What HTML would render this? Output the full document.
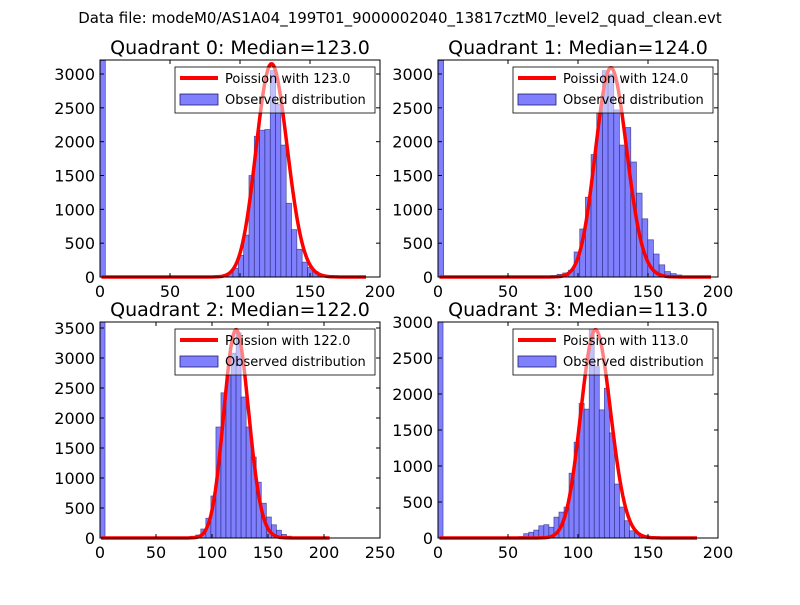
<!DOCTYPE html>
<html><head><meta charset="utf-8"><style>
body{margin:0;background:#fff}
svg text{font-family:"DejaVu Sans","Liberation Sans",sans-serif;fill:#000}
</style></head><body>
<svg id="fig" width="800" height="600" viewBox="0 0 800 600" xmlns="http://www.w3.org/2000/svg">
<rect width="800" height="600" fill="#fff"/>
<text x="400" y="23" font-size="15" text-anchor="middle">Data file: modeM0/AS1A04_199T01_9000002040_13817cztM0_level2_quad_clean.evt</text>
</svg>
<script>
// ---- data ----
const medians = [123.0, 124.0, 122.0, 113.0];
const binWidths = [3.8, 4.05, 4.5, 3.6];
const zeroBinCounts = [3200, 3200, 3600, 3000];
const startBins = [21, 20, 18, 16];
const q0Counts = [10,15,20,60,130,320,620,1500,2080,2170,2180,3050,2550,1950,1090,700,410,220,140,80,40,20];
const q1Counts = [20,40,60,100,370,710,1180,1810,2420,3050,3000,2470,1950,2210,1700,1240,860,550,340,180,80,50,30];
const q2Counts = [30,50,150,330,700,1850,2420,2720,3080,3420,2350,1850,1350,930,580,350,220,130,60,30];
const q3Counts = [20,60,80,110,170,185,150,290,360,430,900,1330,1870,1790,2890,2380,1780,2080,1460,750,430,240,100,70,40,20];
const curvePeaks = [3150, 3090, 3470, 2890];
const curveEnds = [190, 195, 205, 185];
const xMaxes = [200, 200, 250, 200];
const yMaxes = [3207, 3207, 3600, 3000];
const xTickLabels = [[0,50,100,150,200],[0,50,100,150,200],[0,50,100,150,200,250],[0,50,100,150,200]];
const yTickLabels = [[0,500,1000,1500,2000,2500,3000],[0,500,1000,1500,2000,2500,3000],[0,500,1000,1500,2000,2500,3000,3500],[0,500,1000,1500,2000,2500,3000]];
// ---- layout ----
const allCounts=[q0Counts,q1Counts,q2Counts,q3Counts];
const boxes=[[100,60,380,277],[438,60,718,277],[100,322,380,538],[438,322,718,538]];
const NS='http://www.w3.org/2000/svg';
const fig=document.getElementById('fig');
function mk(tag,attrs,parent){const e=document.createElementNS(NS,tag);for(const k in attrs)e.setAttribute(k,attrs[k]);(parent||fig).appendChild(e);return e;}
function lgam(n){let s=0;for(let i=2;i<=n;i++)s+=Math.log(i);return s;}
function pmf(k,l){return Math.exp(k*Math.log(l)-l-lgam(k));}
for(let q=0;q<4;q++){
  const [x0,y0,x1,y1]=boxes[q];
  const g=mk('g',{});
  
  
  const xs=v=>x0+(x1-x0)*v/xMaxes[q];
  const ys=v=>y1-(y1-y0)*Math.min(v,yMaxes[q])/yMaxes[q];
  const bw=binWidths[q];
  const drawBar=(i,c)=>{const r=mk('rect',{x:xs(i*bw),y:ys(c),width:xs(bw)-xs(0),height:y1-ys(c),fill:'#8080ff',stroke:'#1c1c6a','stroke-width':0.7,'stroke-opacity':0.7},g);
    
    };
  drawBar(0,zeroBinCounts[q]);
  allCounts[q].forEach((c,j)=>drawBar(startBins[q]+j,c));
  const lam=medians[q];const scale=curvePeaks[q]/pmf(Math.floor(lam),lam);
  let d='';for(let k=1;k<=curveEnds[q];k++){d+=(k==1?'M':'L')+xs(k).toFixed(1)+','+ys(scale*pmf(k,lam)).toFixed(1);}
  const p=mk('path',{d:d,fill:'none',stroke:'#ff0000','stroke-width':3.5,'stroke-linejoin':'round'},g);
  
  
  mk('rect',{x:x0,y:y0,width:x1-x0,height:y1-y0,fill:'none',stroke:'#000','stroke-width':1},g);
  xTickLabels[q].forEach(v=>{const x=xs(v);
    mk('line',{x1:x,y1:y1,x2:x,y2:y1-4,stroke:'#000'},g);mk('line',{x1:x,y1:y0,x2:x,y2:y0+4,stroke:'#000'},g);
    const t=mk('text',{x:x,y:y1+20,'font-size':16,'text-anchor':'middle'},g);t.textContent=v;
    
    });
  yTickLabels[q].forEach(v=>{const y=ys(v);
    mk('line',{x1:x0,y1:y,x2:x0+4,y2:y,stroke:'#000'},g);mk('line',{x1:x1,y1:y,x2:x1-4,y2:y,stroke:'#000'},g);
    const t=mk('text',{x:x0-5,y:y+6,'font-size':16,'text-anchor':'end'},g);t.textContent=v;
    
    });
  const tt=mk('text',{x:(x0+x1)/2,y:y0-6,'font-size':19,'text-anchor':'middle'},g);
  tt.textContent='Quadrant '+q+': Median='+medians[q].toFixed(1);
  
  
  const lg=mk('g',{},g);
  
  
  const lx=x0+75,ly=y0+7;
  mk('rect',{x:lx,y:ly,width:200,height:46,fill:'#fff','fill-opacity':0.5,stroke:'#000','stroke-width':0.8},lg);
  mk('line',{x1:lx+5,y1:ly+11,x2:lx+43,y2:ly+11,stroke:'#ff0000','stroke-width':4},lg);
  const t1=mk('text',{x:lx+50,y:ly+16,'font-size':13},lg);t1.textContent='Poission with '+medians[q].toFixed(1);
  
  
  mk('rect',{x:lx+5,y:ly+27,width:38,height:11,fill:'#8080ff',stroke:'#1c1c6a','stroke-width':0.8},lg);
  const t2=mk('text',{x:lx+50,y:ly+37,'font-size':13},lg);t2.textContent='Observed distribution';
  
  
}
</script>
</body></html>
